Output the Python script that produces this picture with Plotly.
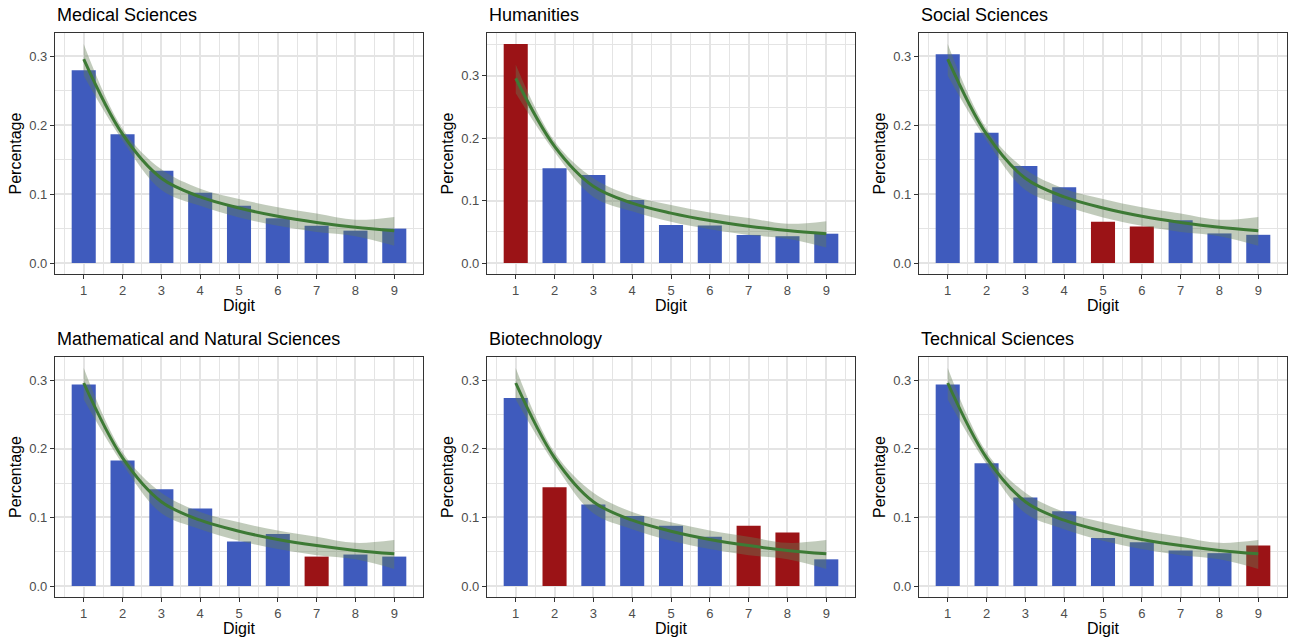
import plotly.graph_objects as go

# ---------------- data ----------------
digits = [1, 2, 3, 4, 5, 6, 7, 8, 9]
digit_labels = ["1", "2", "3", "4", "5", "6", "7", "8", "9"]

panel_titles = [
    "Medical Sciences", "Humanities", "Social Sciences",
    "Mathematical and Natural Sciences", "Biotechnology", "Technical Sciences",
]

medical = [0.280, 0.187, 0.134, 0.102, 0.083, 0.065, 0.054, 0.047, 0.050]
humanities = [0.351, 0.152, 0.141, 0.101, 0.061, 0.060, 0.045, 0.043, 0.047]
social = [0.303, 0.189, 0.141, 0.110, 0.060, 0.053, 0.062, 0.043, 0.041]
mathnat = [0.294, 0.183, 0.141, 0.113, 0.065, 0.076, 0.043, 0.046, 0.043]
biotech = [0.274, 0.144, 0.119, 0.102, 0.088, 0.072, 0.088, 0.078, 0.039]
technical = [0.294, 0.179, 0.129, 0.109, 0.070, 0.064, 0.052, 0.048, 0.059]

# deviating digits (drawn in red)
medical_flag = [0, 0, 0, 0, 0, 0, 0, 0, 0]
humanities_flag = [1, 0, 0, 0, 0, 0, 0, 0, 0]
social_flag = [0, 0, 0, 0, 1, 1, 0, 0, 0]
mathnat_flag = [0, 0, 0, 0, 0, 0, 1, 0, 0]
biotech_flag = [0, 1, 0, 0, 0, 0, 1, 1, 0]
technical_flag = [0, 0, 0, 0, 0, 0, 0, 0, 1]

# smoothed reference curve with confidence ribbon
fit_line = [0.296, 0.187, 0.123, 0.096, 0.080, 0.068, 0.059, 0.052, 0.047]
fit_upper = [0.318, 0.195, 0.136, 0.108, 0.093, 0.081, 0.072, 0.063, 0.067]
fit_lower = [0.272, 0.178, 0.106, 0.083, 0.066, 0.054, 0.045, 0.039, 0.025]

series = [medical, humanities, social, mathnat, biotech, technical]
flags = [medical_flag, humanities_flag, social_flag, mathnat_flag, biotech_flag, technical_flag]

# ---------------- style ----------------
W, H = 1292, 643
BLUE = "#3f5bbd"
RED = "#9b1316"
LINE = "#3d7a35"
BAND = "rgba(100,125,85,0.40)"
GRID = "#e4e4e4"
FONT = "Liberation Sans"

col_left = [55, 487, 919]
panel_w = 368
row_top = [33, 357]
row_bot = [274, 597]

fig = go.Figure()
annotations = []

for i, (vals, fl, title) in enumerate(zip(series, flags, panel_titles)):
    r, c = divmod(i, 3)
    k = "" if i == 0 else str(i + 1)
    xa, ya = "x" + k, "y" + k
    colors = [RED if f else BLUE for f in fl]

    fig.add_trace(go.Bar(x=digits, y=vals, width=0.62, marker=dict(color=colors, line=dict(width=0)),
                         xaxis=xa, yaxis=ya, showlegend=False, hoverinfo="x+y"))
    fig.add_trace(go.Scatter(x=digits, y=fit_lower, mode="lines", line=dict(width=0, shape="spline"),
                             xaxis=xa, yaxis=ya, showlegend=False, hoverinfo="skip"))
    fig.add_trace(go.Scatter(x=digits, y=fit_upper, mode="lines", line=dict(width=0, shape="spline"),
                             fill="tonexty", fillcolor=BAND,
                             xaxis=xa, yaxis=ya, showlegend=False, hoverinfo="skip"))
    fig.add_trace(go.Scatter(x=digits, y=fit_line, mode="lines", line=dict(color=LINE, width=3, shape="spline"),
                             xaxis=xa, yaxis=ya, showlegend=False))

    ymax = max(max(vals), max(fit_upper))
    ymin = 0.0
    pad = (ymax - ymin) * 0.05

    x0 = col_left[c] / W
    x1 = (col_left[c] + panel_w) / W
    y0 = 1 - row_bot[r] / H
    y1 = 1 - row_top[r] / H

    common = dict(showline=True, mirror=True, linecolor="#333333", linewidth=1.2,
                  ticks="outside", ticklen=4, tickwidth=1.2, tickcolor="#333333",
                  showgrid=True, gridcolor=GRID, gridwidth=2, zeroline=False,
                  tickfont=dict(family=FONT, size=13, color="#4d4d4d"))
    fig.layout["xaxis" + k] = dict(
        domain=[x0, x1], anchor=ya, range=[0.26, 9.74],
        tickvals=digits, ticktext=digit_labels,
        minor=dict(tickvals=[d - 0.5 for d in digits] + [9.5], showgrid=True, gridcolor=GRID, gridwidth=1),
        **common)
    yt = [0.0, 0.1, 0.2, 0.3]
    fig.layout["yaxis" + k] = dict(
        domain=[y0, y1], anchor=xa, range=[ymin - pad, ymax + pad],
        tickvals=yt, ticktext=["%.1f" % v for v in yt],
        minor=dict(tickvals=[0.05, 0.15, 0.25, 0.35], showgrid=True, gridcolor=GRID, gridwidth=1),
        **common)

    # panel title
    annotations.append(dict(text=title, x=x0, y=1 - (row_top[r] - 18) / H, xref="paper", yref="paper",
                            xanchor="left", yanchor="middle", showarrow=False,
                            font=dict(family=FONT, size=18, color="black")))
    # x title
    annotations.append(dict(text="Digit", x=(x0 + x1) / 2, y=1 - (row_bot[r] + 31) / H, xref="paper",
                            yref="paper", xanchor="center", yanchor="middle", showarrow=False,
                            font=dict(family=FONT, size=16, color="black")))
    # y title
    annotations.append(dict(text="Percentage", x=(col_left[c] - 40) / W, y=(y0 + y1) / 2, xref="paper",
                            yref="paper", xanchor="center", yanchor="middle", showarrow=False, textangle=-90,
                            font=dict(family=FONT, size=16, color="black")))

fig.update_layout(width=W, height=H, margin=dict(l=0, r=0, t=0, b=0),
                  plot_bgcolor="white", paper_bgcolor="white", annotations=annotations,
                  barmode="overlay")

fig.write_html("out.html", config={"displayModeBar": False},
               post_script="document.body.style.margin='0';document.body.style.overflow='hidden';")
